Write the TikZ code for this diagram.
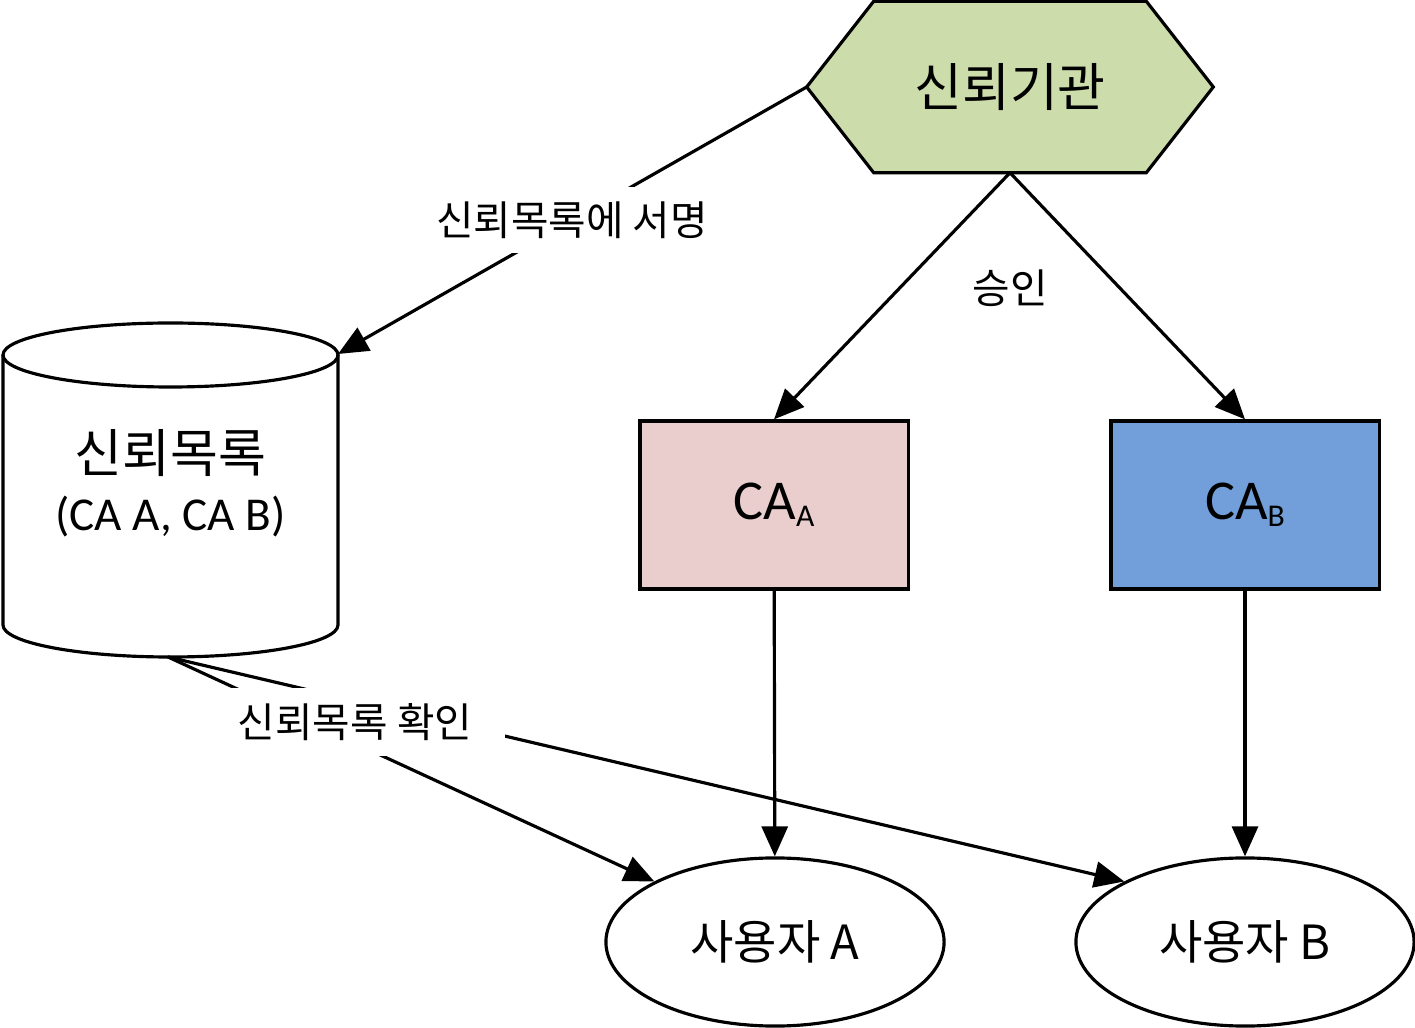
\documentclass[tikz,border=0pt]{standalone}
\usepackage{fontspec}
\setmainfont{Carlito}
\newfontfamily\kr{Noto Sans CJK KR}
\usetikzlibrary{arrows.meta,backgrounds,shapes.geometric}
\definecolor{orggreen}{RGB}{205,220,171}
\definecolor{capink}{RGB}{234,205,205}
\definecolor{cablue}{RGB}{114,159,217}
\tikzset{
  line/.style={line width=0.9pt},
  arr/.style={line, -{Triangle[length=0.3cm,width=0.26cm]}},
  cabox/.style={draw, line, minimum width=2.68cm, minimum height=1.68cm, font=\fontsize{16}{19}\selectfont},
  user/.style={draw, line, ellipse, minimum width=3.38cm, minimum height=1.68cm, font=\kr\fontsize{13.4}{16}\selectfont},
  lbl/.style={font=\kr\fontsize{11.6}{14}\selectfont},
}
\begin{document}
\begin{tikzpicture}[x=0.01cm,y=-0.01cm]
\useasboundingbox (0,0) rectangle (1415,1028);

\node[font=\kr\fontsize{14.8}{17}\selectfont, minimum width=4.05cm, minimum height=1.70cm] (trust) at (1010,87) {신뢰기관};
\begin{scope}[on background layer]
\draw[line, fill=orggreen] (trust.west) -- ([xshift=0.67cm]trust.north west) -- ([xshift=-0.67cm]trust.north east)
  -- (trust.east) -- ([xshift=-0.67cm]trust.south east) -- ([xshift=0.67cm]trust.south west) -- cycle;
\end{scope}

\draw[line, fill=white] (3,355) -- (3,625) arc[start angle=180, end angle=0, x radius=167.5, y radius=32] -- (338,355);
\draw[line] (170.5,355) ellipse[x radius=167.5, y radius=32];
\node[align=center, font=\fontsize{13.4}{16.5}\selectfont] (list) at (170.5,483) {{\kr\fontsize{14.8}{16.5}\selectfont 신뢰목록}\\(CA A, CA B)};
\coordinate (listtop) at (338,354);
\coordinate (listbot) at (168,657);

\node[cabox, fill=capink] (caA) at (774,505) {CA\raisebox{-0.07cm}{\fontsize{9}{9}\selectfont A}};
\node[cabox, fill=cablue] (caB) at (1245,505) {CA\raisebox{-0.07cm}{\fontsize{9}{9}\selectfont B}};

\node[user] (userA) at (775,942) {사용자 A};
\node[user] (userB) at (1245,942) {사용자 B};

\draw[arr] (trust.south) -- (caA.north);
\draw[arr] (trust.south) -- (caB.north);
\node[lbl] (approve) at (1010,288) {승인};

\draw[arr] (trust.west) -- (listtop);
\node[lbl, fill=white, minimum height=0.65cm, inner xsep=2pt] (sign) at (572,220) {신뢰목록에 서명};

\draw[arr] (caA) -- (userA);
\draw[arr] (caB) -- (userB);

\draw[arr] (listbot) -- (userA.north west);
\draw[arr] (listbot) -- (userB.north west);
\node[lbl, fill=white, minimum width=3.0cm, minimum height=0.67cm] (check) at (355,722) {신뢰목록 확인};
\end{tikzpicture}
\end{document}
